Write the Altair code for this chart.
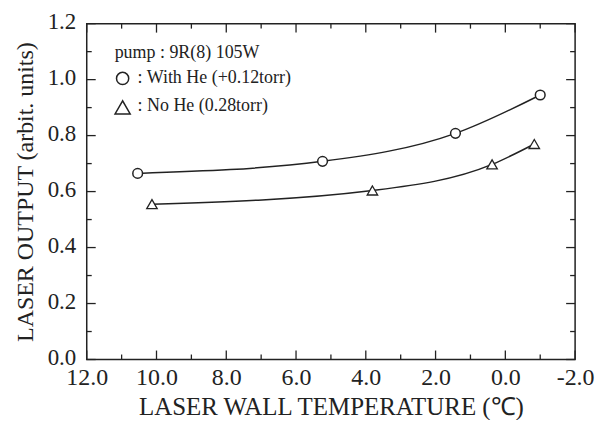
import altair as alt
import pandas as pd

# ---- data ----
temp_he = [10.54, 5.24, 1.43, -1.0]
out_he = [0.665, 0.708, 0.808, 0.945]
temp_nohe = [10.13, 3.81, 0.38, -0.83]
out_nohe = [0.555, 0.604, 0.697, 0.770]

x_major = [12, 10, 8, 6, 4, 2, 0, -2]
x_minor = [11, 9, 7, 5, 3, 1, -1]
y_major = [0.0, 0.2, 0.4, 0.6, 0.8, 1.0, 1.2]
y_minor = [0.1, 0.3, 0.5, 0.7, 0.9, 1.1]

legend_title = ["pump : 9R(8) 105W"]
legend_he = [": With He (+0.12torr)"]
legend_nohe = [": No He (0.28torr)"]

W, H = 490, 337
FONT = "Liberation Serif"
INK = "#222222"

xs = alt.Scale(domain=[-2, 12], reverse=True, nice=False, zero=False)
ys = alt.Scale(domain=[0, 1.2], nice=False, zero=False)

x_axis = alt.Axis(
    values=x_major,
    labelExpr="datum.value < 0 ? '-' + format(-datum.value, '.1f') : format(datum.value, '.1f')",
    title="LASER WALL TEMPERATURE (℃)",
    labelPadding=6, titlePadding=5, labelFlush=False,
    labelFontSize=24, titleFontSize=25,
)
y_axis = alt.Axis(
    values=y_major, format=".1f",
    title="LASER OUTPUT (arbit. units)",
    labelPadding=11, titlePadding=10, labelFlush=False, labelOffset=-2,
    labelFontSize=23, titleFontSize=24,
)

def X(field):
    return alt.X(field, scale=xs, axis=x_axis)

def Y(field):
    return alt.Y(field, scale=ys, axis=y_axis)

df_he = pd.DataFrame({"T": temp_he, "P": out_he})
df_nohe = pd.DataFrame({"T": temp_nohe, "P": out_nohe})

line_he = alt.Chart(df_he).mark_line(interpolate="monotone", color=INK, strokeWidth=1.5).encode(
    x=X("T:Q"), y=Y("P:Q"))
line_nohe = alt.Chart(df_nohe).mark_line(interpolate="monotone", color=INK, strokeWidth=1.5).encode(
    x=X("T:Q"), y=Y("P:Q"))
pts_he = alt.Chart(df_he).mark_point(
    shape="circle", filled=True, fill="white", stroke=INK, strokeWidth=1.5, size=95, opacity=1, fillOpacity=1
).encode(x=X("T:Q"), y=Y("P:Q"))
pts_nohe = alt.Chart(df_nohe).mark_point(
    shape="triangle-up", filled=True, fill="white", stroke=INK, strokeWidth=1.3, size=110, opacity=1, fillOpacity=1
).encode(x=X("T:Q"), y=Y("P:Q"))

# inward ticks on all four sides
def xticks(vals, length):
    d = pd.DataFrame({"v": vals})
    bottom = alt.Chart(d).mark_rule(color=INK, strokeWidth=1.3).encode(
        x=X("v:Q"), y=alt.value(H), y2=alt.value(H - length))
    top = alt.Chart(d).mark_rule(color=INK, strokeWidth=1.3).encode(
        x=X("v:Q"), y=alt.value(0), y2=alt.value(length))
    return [bottom, top]

def yticks(vals, length):
    d = pd.DataFrame({"v": vals})
    left = alt.Chart(d).mark_rule(color=INK, strokeWidth=1.3).encode(
        y=Y("v:Q"), x=alt.value(0), x2=alt.value(length))
    right = alt.Chart(d).mark_rule(color=INK, strokeWidth=1.3).encode(
        y=Y("v:Q"), x=alt.value(W), x2=alt.value(W - length))
    return [left, right]

tick_layers = xticks(x_major, 9) + xticks(x_minor, 5) + yticks(y_major, 9) + yticks(y_minor, 5)

# in-plot legend
def label(txt, px, py):
    return alt.Chart(pd.DataFrame({"t": txt})).mark_text(
        align="left", baseline="middle", font=FONT, fontSize=18, color=INK
    ).encode(x=alt.value(px), y=alt.value(py), text="t:N")

leg_title = label(legend_title, 28, 29)
leg_he_txt = label(legend_he, 51, 55)
leg_nohe_txt = label(legend_nohe, 51, 83)
leg_circle = alt.Chart(pd.DataFrame({"t": legend_he})).mark_point(
    shape="circle", filled=True, fill="white", stroke=INK, strokeWidth=1.5, size=150, opacity=1
).encode(x=alt.value(36), y=alt.value(55))
leg_tri = alt.Chart(pd.DataFrame({"t": legend_nohe})).mark_point(
    shape="triangle-up", filled=True, fill="white", stroke=INK, strokeWidth=1.5, size=230, opacity=1
).encode(x=alt.value(36), y=alt.value(84))

chart = alt.layer(
    line_he, line_nohe, *tick_layers, pts_he, pts_nohe,
    leg_title, leg_he_txt, leg_nohe_txt, leg_circle, leg_tri,
).properties(
    width=W, height=H,
    padding={"left": 79, "top": 15, "right": 30, "bottom": 60},
    autosize=alt.AutoSizeParams(type="none"),
    background="white",
).configure_view(
    stroke=INK, strokeWidth=1.5
).configure_axis(
    labelFont=FONT, labelColor=INK,
    titleFont=FONT, titleFontWeight="normal", titleColor=INK,
    domain=False, ticks=False, tickSize=0, grid=False,
)

chart.save("out.html", embed_options={"renderer": "svg", "actions": False})
